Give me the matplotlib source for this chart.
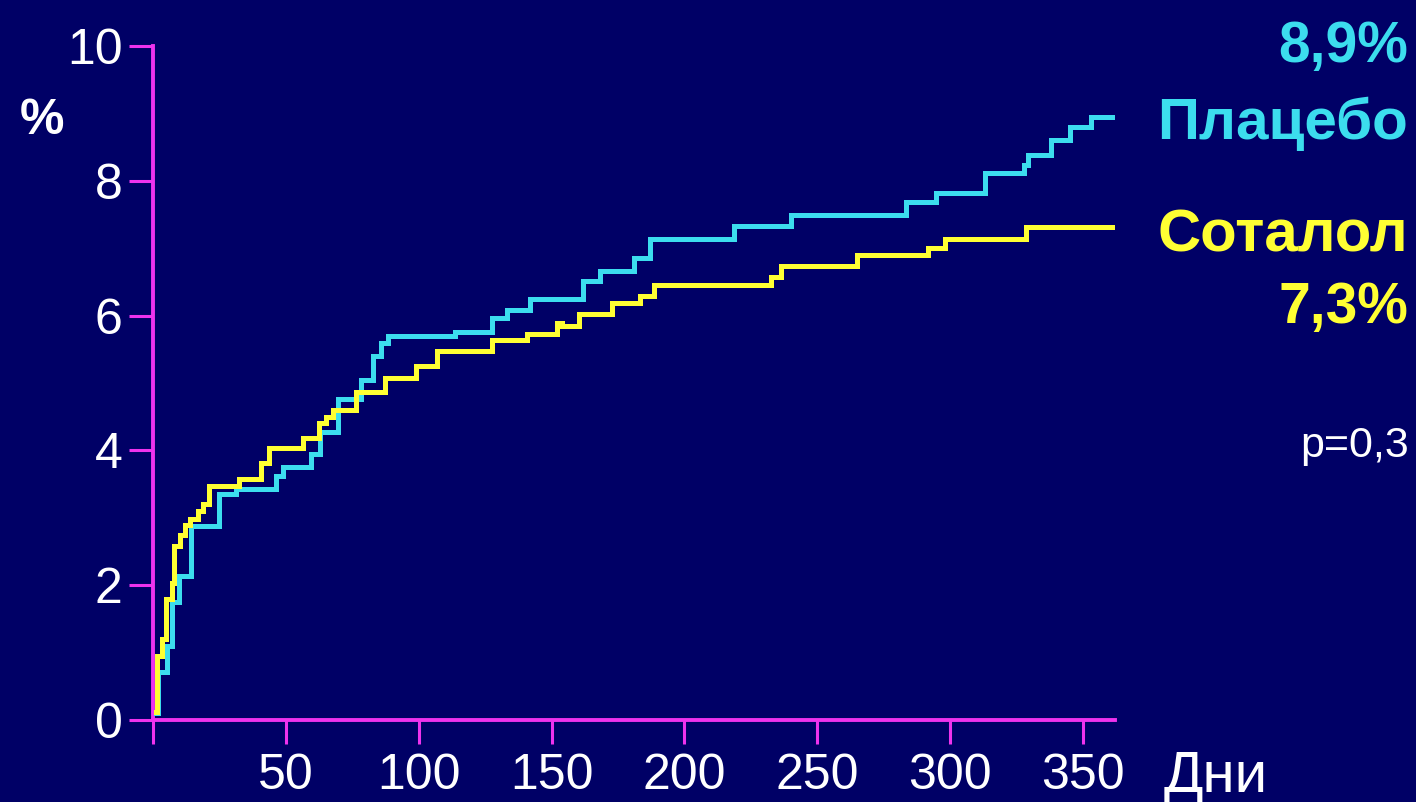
import matplotlib
matplotlib.use("Agg")
import matplotlib.pyplot as plt

# ---- data ----
placebo_days = [1, 2, 5.4, 7.3, 9.8, 14.2, 24.9, 31.2, 46.3, 48.8, 59.5, 62.8,
                69.5, 78.4, 82.8, 85.9, 88.4, 113.6, 127.4, 133.1, 141.9,
                162, 168.3, 180.9, 187.2, 218.6, 240, 283.4, 294.7, 313,
                328, 329.3, 338.1, 345, 353.2, 364.5]
placebo_pct = [0.1, 0.71, 1.1, 1.75, 2.14, 2.88, 3.35, 3.42, 3.62, 3.76, 3.94, 4.28,
               4.76, 5.05, 5.40, 5.60, 5.69, 5.75, 5.96, 6.09, 6.25,
               6.51, 6.66, 6.85, 7.13, 7.33, 7.50, 7.69, 7.82, 8.11,
               8.24, 8.39, 8.61, 8.80, 8.95, 8.95]

sotalol_days = [1, 1.5, 3.5, 5, 7, 8, 10, 12, 14, 17, 19, 21, 32.5, 40.6, 43.8,
                56.4, 62.6, 65, 67.7, 76.5, 87.2, 99.1, 106.7, 127.4, 140.6,
                152, 154, 160.5, 172.7, 183.4, 188.4, 232.5, 236.2, 265,
                291.5, 297.9, 328.7, 365]
sotalol_pct = [0.12, 0.95, 1.2, 1.79, 2.04, 2.58, 2.75, 2.9, 2.98, 3.1, 3.2, 3.47,
               3.57, 3.82, 4.04, 4.19, 4.41, 4.5, 4.6, 4.86, 5.08, 5.25, 5.47,
               5.64, 5.72, 5.89, 5.84, 6.03, 6.19, 6.29, 6.46, 6.58, 6.73,
               6.90, 7.0, 7.13, 7.32, 7.32]

x_ticks = [0, 50, 100, 150, 200, 250, 300, 350]
x_tick_labels = ["", "50", "100", "150", "200", "250", "300", "350"]
y_ticks = [0, 2, 4, 6, 8, 10]
y_tick_labels = ["0", "2", "4", "6", "8", "10"]

# ---- style ----
BG = "#000066"
CYAN = "#3CDDEE"
YELLOW = "#FFFF33"
MAG = "#EE33EE"
W, H = 1416, 802

plt.rcParams["font.family"] = ["Liberation Sans", "DejaVu Sans"]

fig = plt.figure(figsize=(W / 100, H / 100), dpi=100, facecolor=BG)
x0, x1, ytop, ybot = 153, 1115, 46, 720
ax = fig.add_axes([x0 / W, 1 - ybot / H, (x1 - x0) / W, (ybot - ytop) / H])
ax.set_facecolor(BG)

ax.plot(placebo_days, placebo_pct, drawstyle="steps-post", color=CYAN,
        lw=3.6, solid_joinstyle="miter", zorder=3)
ax.plot(sotalol_days, sotalol_pct, drawstyle="steps-post", color=YELLOW,
        lw=3.6, solid_joinstyle="miter", zorder=4)

ax.set_xlim(0, (x1 - x0) / 2.657)
ax.set_ylim(0, 10)
for s in ["top", "right"]:
    ax.spines[s].set_visible(False)
for s in ["left", "bottom"]:
    ax.spines[s].set_color(MAG)
    ax.spines[s].set_linewidth(2.8)

ax.set_xticks(x_ticks)
ax.set_xticklabels(x_tick_labels)
ax.set_yticks(y_ticks)
ax.set_yticklabels(y_tick_labels)
ax.tick_params(axis="both", colors=MAG, length=17, width=2.2, direction="out")
ax.tick_params(axis="x", labelcolor="white", labelsize=36, pad=7)
ax.tick_params(axis="y", labelcolor="white", labelsize=36, pad=5)

def ftext(x, y, s, **kw):
    fig.text(x / W, 1 - y / H, s, **kw)

ftext(1408, 62, "8,9%", color=CYAN, fontsize=41, fontweight="bold", ha="right", va="baseline")
ftext(1408, 139, "Плацебо", color=CYAN, fontsize=42, fontweight="bold", ha="right", va="baseline")
ftext(1408, 252, "Соталол", color=YELLOW, fontsize=43, fontweight="bold", ha="right", va="baseline")
ftext(1408, 323, "7,3%", color=YELLOW, fontsize=41, fontweight="bold", ha="right", va="baseline")
ftext(1409, 457, "p=0,3", color="white", fontsize=31, ha="right", va="baseline")
ftext(20, 134, "%", color="white", fontsize=36, fontweight="bold", ha="left", va="baseline")
ftext(1164, 792, "Дни", color="white", fontsize=42, ha="left", va="baseline")

fig.savefig("out.png", dpi=100, facecolor=BG)
